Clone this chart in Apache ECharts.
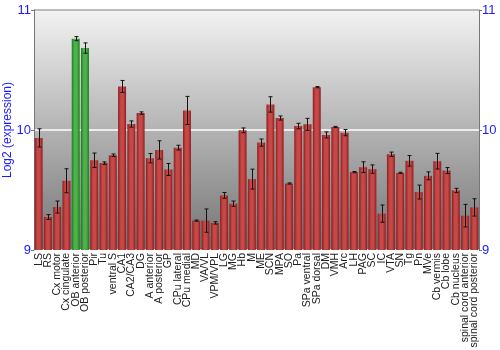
<!DOCTYPE html>
<html><head><meta charset="utf-8">
<script src="https://cdn.jsdelivr.net/npm/echarts@6/dist/echarts.min.js"></script>
<style>html,body{margin:0;padding:0;background:#fff}#c{width:500px;height:350px}</style>
</head><body><div id="c"></div>
<script>
const categories = ["LS","RS","Cx motor","Cx cingulate","OB anterior","OB posterior","Pir","Tu","ventral S","CA1","CA2/CA3","DG","A anterior","A posterior","GP","CPu lateral","CPu medial","MD","VA/VL","VPM/VPL","LG","MG","Hb","M","ME","SCN","MPA","SO","Pa","SPa ventral","SPa dorsal","DM","VMH","Arc","LH","PAG","SC","IC","VTA","SN","Tg","Pn","MVe","Cb vermis","Cb lobe","Cb nucleus","spinal cord anterior","spinal cord posterior"];
const values = [9.934,9.275,9.358,9.577,10.761,10.683,9.748,9.724,9.79,10.363,10.05,10.141,9.765,9.834,9.671,9.853,10.163,9.245,9.245,9.226,9.455,9.386,9.997,9.591,9.895,10.213,10.1,9.554,10.033,10.047,10.357,9.959,10.025,9.978,9.649,9.69,9.674,9.303,9.798,9.643,9.743,9.483,9.618,9.74,9.662,9.496,9.286,9.355];
const errors = [0.076,0.02,0.05,0.1,0.017,0.043,0.06,0.01,0.01,0.05,0.026,0.01,0.039,0.076,0.05,0.02,0.117,0.005,0.097,0.01,0.024,0.022,0.02,0.083,0.03,0.064,0.017,0.005,0.023,0.05,0.005,0.025,0.005,0.026,0.005,0.045,0.035,0.072,0.018,0.005,0.044,0.058,0.033,0.065,0.025,0.018,0.094,0.072];
const highlighted = ["OB anterior","OB posterior"];
const yTicks = [9,10,11];
const yTitle = "Log2 (expression)";

function grad(c1,c2){
  return new echarts.graphic.LinearGradient(0,0,1,0,[
    {offset:0,color:c2},{offset:0.35,color:c1},{offset:0.65,color:c1},{offset:1,color:c2}]);
}
const redG = grad('#c84848','#8a1f1f');
const greenG = grad('#4cb34c','#237a23');

const chart = echarts.init(document.getElementById('c'));
chart.setOption({
  animation:false,
  grid:{left:34,right:21,top:10,bottom:100,show:true,borderWidth:0,containLabel:false,outerBoundsMode:'none',
    backgroundColor:new echarts.graphic.LinearGradient(0,0,0,1,[{offset:0,color:'#f2f2f2'},{offset:1,color:'#747474'}])},
  xAxis:{type:'category',data:categories,
    axisLine:{show:false},axisTick:{show:false},
    axisLabel:{rotate:90,interval:0,fontSize:10.5,color:'#222',margin:3,fontFamily:'Liberation Sans',hideOverlap:false}},
  yAxis:[{type:'value',min:9,max:11,interval:1,
    axisLine:{show:true,lineStyle:{color:'#777',width:1}},
    axisTick:{show:true,length:3,lineStyle:{color:'#777'}},
    axisLabel:{color:'#1a1aff',fontSize:13,margin:3,fontFamily:'Liberation Sans',
      formatter:v=>yTicks.includes(v)?String(v):''},
    splitLine:{show:true,lineStyle:{color:'#ffffff',width:1.5}}},
   {type:'value',min:9,max:11,interval:1,position:'right',
    axisLine:{show:true,lineStyle:{color:'#777',width:1}},
    axisTick:{show:true,length:3,lineStyle:{color:'#777'}},
    axisLabel:{color:'#1a1aff',fontSize:13,margin:3,fontFamily:'Liberation Sans'},
    splitLine:{show:false}}],
  graphic:[
    {type:'line',shape:{x1:34,y1:10,x2:479,y2:10},style:{stroke:'#777',lineWidth:1},z:100},
    {type:'text',x:8,y:130,rotation:Math.PI/2,
     style:{text:yTitle,fill:'#1a1aff',fontSize:12,fontFamily:'Liberation Sans',align:'center',verticalAlign:'middle'}}
  ],
  series:[
    {type:'bar',data:values.map((v,i)=>({value:v,itemStyle:{color:highlighted.includes(categories[i])?greenG:redG}})),
     barCategoryGap:'14%',z:2},
    {type:'custom',z:5,
     data:values.map((v,i)=>[i,v-errors[i],v+errors[i]]),
     renderItem:function(params,api){
       const lo=api.coord([api.value(0),api.value(1)]);
       const hi=api.coord([api.value(0),api.value(2)]);
       const x=Math.round(lo[0])+0.5, w=2;
       const st={stroke:'#111',lineWidth:1};
       return {type:'group',children:[
         {type:'line',shape:{x1:x,y1:hi[1],x2:x,y2:lo[1]},style:st},
         {type:'line',shape:{x1:x-w,y1:hi[1],x2:x+w,y2:hi[1]},style:st},
         {type:'line',shape:{x1:x-w,y1:lo[1],x2:x+w,y2:lo[1]},style:st}]};
     }}
  ]
});
</script></body></html>
